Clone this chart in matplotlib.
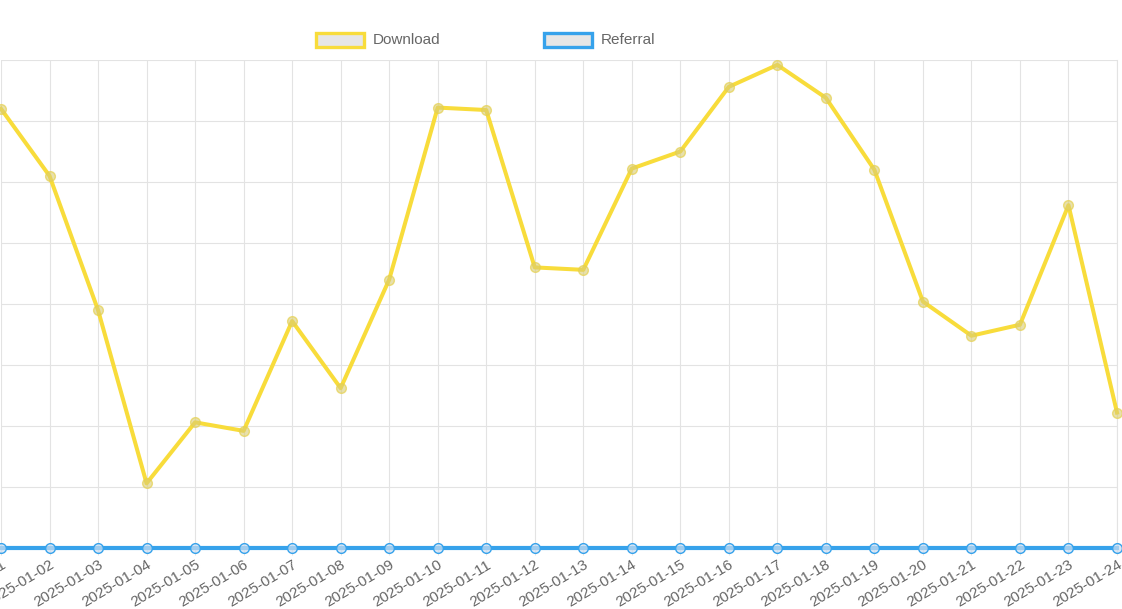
import matplotlib
matplotlib.use("Agg")
import matplotlib.pyplot as plt
from matplotlib.patches import Rectangle

dates = ["2025-01-%02d" % d for d in range(1, 25)]
download = [360, 305, 195, 53, 103, 96, 186, 131, 220, 361, 359, 230,
            228, 311, 325, 378, 396, 369, 310, 202, 174, 183, 281, 111]
referral = [0] * 24
y_ticks = [0, 50, 100, 150, 200, 250, 300, 350, 400]

W, H = 1122, 609
fig = plt.figure(figsize=(W / 100, H / 100), dpi=100)
plt.rcParams['font.family'] = ['Liberation Sans', 'DejaVu Sans']

left, right, top, bottom = 1, 1117, 60, 548
ax = fig.add_axes([left / W, 1 - bottom / H, (right - left) / W, (bottom - top) / H])

yellow = "#f8dc3b"
blue = "#36a2eb"
grid = "#e3e3e3"

x = list(range(len(dates)))
ax.plot(x, download, color=yellow, lw=2.9, marker="o", ms=7,
        mfc=(0.85, 0.8, 0.45, 0.6), mec=(0.9, 0.82, 0.3, 0.7), mew=1.0,
        zorder=3, clip_on=False, solid_joinstyle="round")
ax.plot(x, referral, color=blue, lw=3.0, marker="o", ms=7,
        mfc=(0.8, 0.87, 0.95, 0.7), mec=blue, mew=1.0,
        zorder=4, clip_on=False)

ax.set_xlim(0, len(dates) - 1)
ax.set_ylim(y_ticks[0], y_ticks[-1])
ax.set_yticks(y_ticks)
ax.set_yticklabels([])
ax.set_xticks(x)
ax.set_xticklabels(dates, rotation=31, ha="right", va="top",
                   rotation_mode="anchor", fontsize=11, color="#666666")
ax.tick_params(axis="x", length=5, color=grid, width=0.8, pad=2)
ax.tick_params(axis="y", length=0)
ax.grid(True, color=grid, lw=0.8)
ax.set_axisbelow(True)
for s in ax.spines.values():
    s.set_visible(False)
ax.spines["right"].set_visible(True)
ax.spines["right"].set_color(grid)
ax.spines["right"].set_linewidth(0.8)

def legend_item(x0, label, color):
    bw, bh = 48, 14
    r = Rectangle((x0 / W, 1 - 47 / H), bw / W, bh / H, transform=fig.transFigure,
                  facecolor="#e6e6e6", edgecolor=color, lw=2.4)
    fig.patches.append(r)
    fig.text((x0 + bw + 9) / W, 1 - 40 / H, label, ha="left", va="center",
             fontsize=11, color="#666666")

legend_item(316, "Download", yellow)
legend_item(544, "Referral", blue)

fig.savefig("out.png", dpi=100)
